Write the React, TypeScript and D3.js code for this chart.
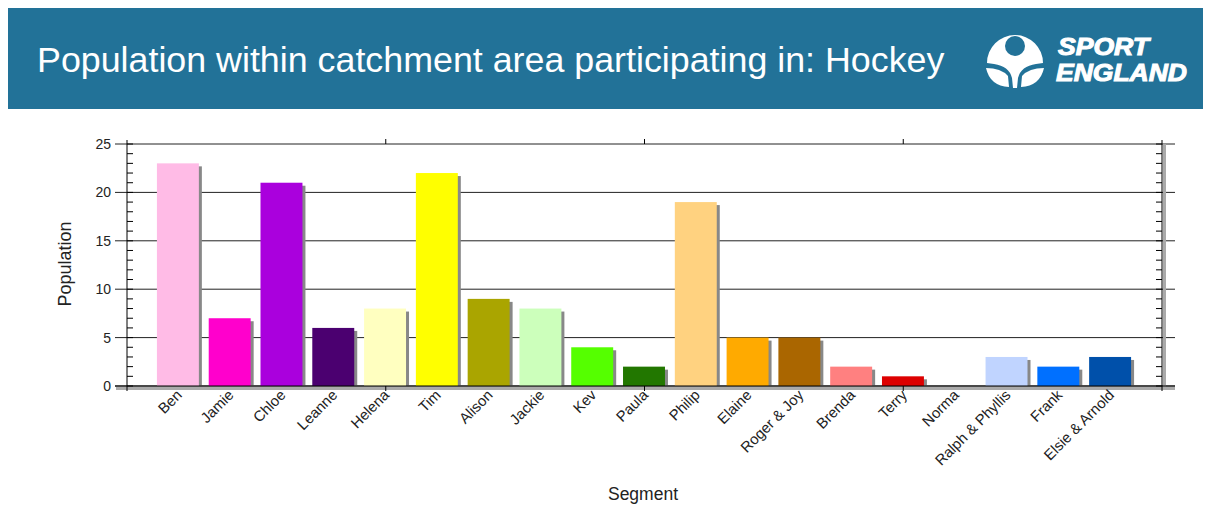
import React from "react";
import * as d3 from "d3";

const categories = ["Ben","Jamie","Chloe","Leanne","Helena","Tim","Alison","Jackie","Kev","Paula","Philip","Elaine","Roger & Joy","Brenda","Terry","Norma","Ralph & Phyllis","Frank","Elsie & Arnold"];
const values = [23,7,21,6,8,22,9,8,4,2,19,5,5,2,1,0,3,2,3];
const colors = ["#FFBBE6","#FF00CC","#AA00DD","#4B0070","#FFFFC0","#FFFF00","#AAA500","#CCFFBB","#55FF00","#227700","#FFD280","#FFAA00","#AA6600","#FF8080","#DD0000","#CCCCCC","#C0D4FF","#0070FF","#0050AA"];
const yTicks = [0,5,10,15,20,25];

const W = 1206, H = 507;
const L = 127, R = 1162, T = 144, B = 386;

export default function App() {
  const x = d3.scaleBand<string>().domain(categories).range([152, 1136]).paddingInner(0.19).paddingOuter(0.095);
  const y = d3.scaleLinear().domain([0, 25]).range([B, T]);
  const minor = d3.range(0, 26);
  const quarter = [1, 2, 3].map(i => L + (R - L) * i / 4);
  const font = "'Liberation Sans', Arial, sans-serif";
  return (
    <svg width={W} height={H} style={{ position: "absolute", left: 0, top: 0 }} fontFamily={font}>
      <rect x={0} y={0} width={W} height={H} fill="#fff" />
      {/* header */}
      <rect x={8} y={8} width={1195} height={101} fill="#227298" />
      <text x={37} y={72} fill="#fff" fontSize={35.8}>Population within catchment area participating in: Hockey</text>
      {/* logo */}
      <g fill="#fff">
        <path d="M987 63 A28 28 0 0 1 1043 63 L1036 64 Q1021 66 1018 78 L1017 88 L1013 88 L1012 78 Q1009 66 994 64 Z" />
        <circle cx={1015} cy={46} r={10} fill="#227298" />
        <path d="M986 68 Q1001 68 1008 76 L1009 87 Q990 86 986 68 Z" />
        <path d="M1044 68 Q1029 68 1022 76 L1021 87 Q1040 86 1044 68 Z" />
      </g>
      <text x={1058} y={55} fill="#fff" fontSize={23.2} fontWeight="bold" fontStyle="italic" stroke="#fff" strokeWidth={1} textLength={91} lengthAdjust="spacingAndGlyphs">SPORT</text>
      <text x={1056} y={81} fill="#fff" fontSize={23.2} fontWeight="bold" fontStyle="italic" stroke="#fff" strokeWidth={1} textLength={131} lengthAdjust="spacingAndGlyphs">ENGLAND</text>

      {/* gridlines */}
      {yTicks.map(t => (
        <line key={"g" + t} x1={115} x2={1175} y1={y(t)} y2={y(t)} stroke="#222" strokeWidth={1} />
      ))}
      {/* bars */}
      {categories.map((c, i) => values[i] > 0 && (
        <g key={c}>
          <rect x={x(c)! + 3} y={y(values[i]) + 3} width={x.bandwidth()} height={B - y(values[i]) - 3} fill="#888" />
          <rect x={x(c)!} y={y(values[i])} width={x.bandwidth()} height={B - y(values[i])} fill={colors[i]} />
        </g>
      ))}
      {/* axis shadows */}
      <rect x={116} y={387} width={1059} height={3} fill="#aaa" />
      <rect x={1163} y={144} width={3} height={243} fill="#aaa" />
      {/* left axis */}
      <line x1={L} x2={L} y1={140} y2={391} stroke="#000" />
      {minor.map(t => <line key={"ml" + t} x1={L} x2={L + 6} y1={y(t)} y2={y(t)} stroke="#000" />)}
      {/* right axis */}
      <line x1={R} x2={R} y1={140} y2={391} stroke="#000" />
      {minor.map(t => <line key={"mr" + t} x1={R - 6} x2={R} y1={y(t)} y2={y(t)} stroke="#000" />)}
      {/* bottom axis */}
      <line x1={115} x2={1175} y1={B} y2={B} stroke="#000" />
      {quarter.map(q => (
        <g key={q}>
          <line x1={q} x2={q} y1={B} y2={B + 5} stroke="#000" />
          <line x1={q} x2={q} y1={T} y2={T - 5} stroke="#000" />
        </g>
      ))}
      {/* y tick labels */}
      {yTicks.map(t => (
        <text key={"yl" + t} x={111} y={y(t) + 5} textAnchor="end" fontSize={14} fill="#222">{t}</text>
      ))}
      {/* x labels */}
      {categories.map(c => {
        const cx = x(c)! + x.bandwidth() / 2 + 5;
        const cy = 396;
        return (
          <text key={"xl" + c} transform={`translate(${cx},${cy}) rotate(-45)`} textAnchor="end" fontSize={14.8} fill="#222">{c}</text>
        );
      })}
      <text transform={`translate(71,264) rotate(-90)`} textAnchor="middle" fontSize={18} fill="#222">Population</text>
      <text x={643} y={500} textAnchor="middle" fontSize={17.5} fill="#222">Segment</text>
    </svg>
  );
}
